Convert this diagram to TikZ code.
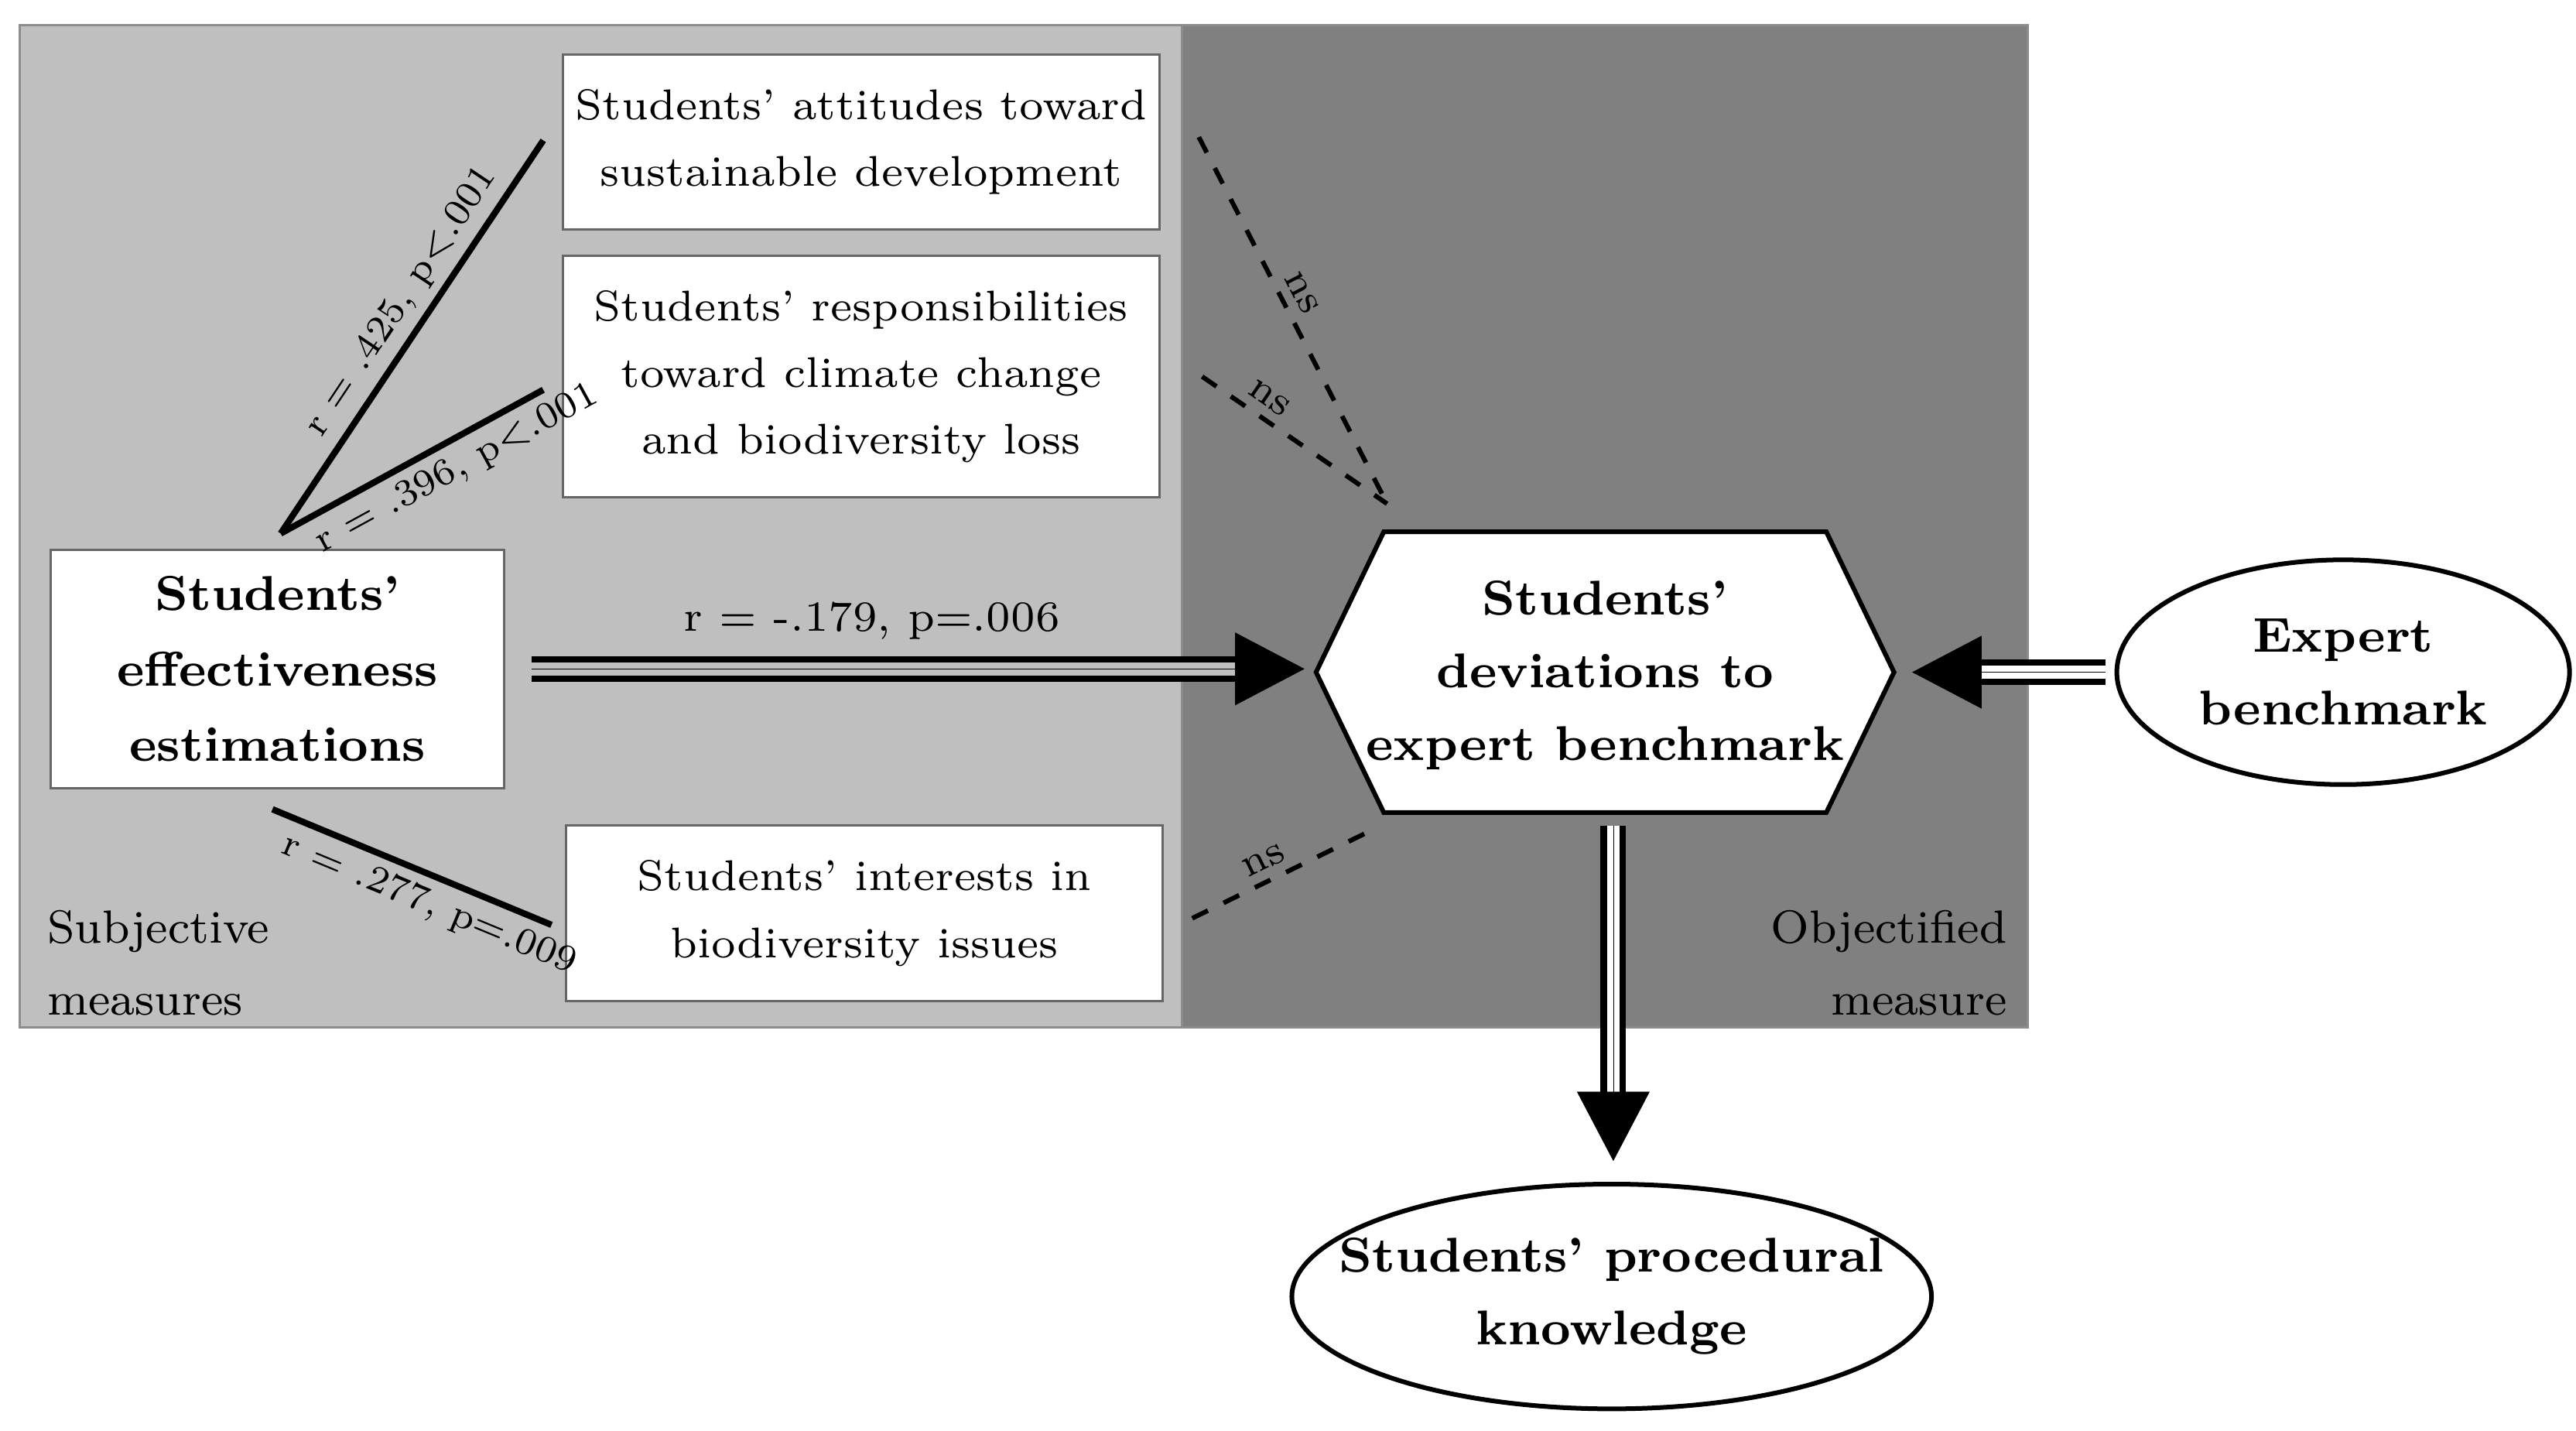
\documentclass[tikz,border=0pt]{standalone}
\usetikzlibrary{arrows.meta,shapes.geometric}
\begin{document}
\begin{tikzpicture}[
  x=0.01cm, y=-0.01cm,
  kasten/.style={
    shape=rectangle, draw=black!60, fill=white, align=center,
    inner sep=0pt, font=\fontsize{7.4}{11.5}\selectfont
  },
  oval/.style={
    shape=ellipse, draw, thick, fill=white, align=center, inner sep=-2pt,
    font=\fontsize{8.4}{12.5}\selectfont\bfseries
  },
  dopp/.style={
    double, double distance=2.2pt, line width=1.1pt, shorten >=0.42cm
  },
  spitze/.style={
    line width=0.1pt, -{Triangle[length=0.42cm,width=0.44cm]}
  },
  lab/.style={
    font=\fontsize{6.5}{8}\selectfont, inner sep=1.5pt
  }
]
\useasboundingbox (0,0) rectangle (1560,866);

% hintergrund
\draw[draw=black!45, fill=black!25] (12,15) rectangle (716,622);
\draw[draw=black!45, fill=black!50] (716,15) rectangle (1228,622);
\draw (28,583) node [anchor=west, align=left, inner sep=0pt, font=\fontsize{8}{12.5}\selectfont] (subj) {Subjective\\measures};
\draw (1216,583) node [anchor=east, align=right, inner sep=0pt, font=\fontsize{8}{12.5}\selectfont] (obj) {Objectified\\measure};

\draw (521.5,86) node [kasten, minimum width=3.61cm, minimum height=1.06cm] (att) {Students' attitudes toward\\sustainable development};
\draw (521.5,228) node [kasten, minimum width=3.61cm, minimum height=1.46cm] (resp) {Students' responsibilities\\toward climate change\\and biodiversity loss};
\draw (523.5,553) node [kasten, minimum width=3.61cm, minimum height=1.06cm] (int) {Students' interests in\\biodiversity issues};
\draw (168,405) node [kasten, minimum width=2.74cm, minimum height=1.44cm, font=\fontsize{8.4}{13}\selectfont\bfseries] (eff) {Students'\\effectiveness\\estimations};

\draw[thick, fill=white] (797,407) -- (838,322) -- (1106,322) -- (1147,407) -- (1106,492) -- (838,492) -- cycle;
\draw (972,409) node [align=center, font=\fontsize{8.4}{12.5}\selectfont\bfseries] (dev) {Students'\\deviations to\\expert benchmark};

\draw (1419,407) node [oval, minimum width=2.74cm, minimum height=1.36cm] (exp) {Expert\\benchmark};
\draw (976,785) node [oval, inner xsep=-8pt, minimum width=3.64cm, minimum height=1.36cm] (proc) {Students' procedural\\knowledge};

% punkte
\coordinate (e1) at (170,323);
\coordinate (a1) at (329,85);
\coordinate (r1) at (329,236);
\coordinate (e2) at (165,490);
\coordinate (i1) at (334,560);
\coordinate (e3) at (322,405);
\coordinate (d1) at (790,405);
\coordinate (x1) at (1275,407);
\coordinate (d2) at (1158,407);
\coordinate (d3) at (977,500);
\coordinate (p1) at (977,703);
\coordinate (n1) at (726,83);
\coordinate (n2) at (728,228);
\coordinate (dn) at (840,305);
\coordinate (n3) at (722,556);
\coordinate (d4) at (830,503);

\path [line width=1.1pt]
  (e1) edge node [lab, sloped, above, pos=0.55] {r = .425, p<.001} (a1)
  (e1) edge node [lab, sloped, below, pos=0.62] {r = .396, p<.001} (r1)
  (e2) edge node [lab, sloped, below, pos=0.6] {r = .277, p=.009} (i1);

\path [thick, dashed]
  (n1) edge node [lab, sloped, above, pos=0.45, font=\fontsize{7}{8}\selectfont] {ns} (dn)
  (n2) edge node [lab, sloped, above, pos=0.3, font=\fontsize{7}{8}\selectfont] {ns} (dn)
  (n3) edge node [lab, sloped, above, pos=0.45, font=\fontsize{7}{8}\selectfont] {ns} (d4);

\path
  (e3) edge [dopp, double=black!25] node [lab, above=3pt, pos=0.44, font=\fontsize{7.4}{9}\selectfont] {r = -.179, p=.006} (d1)
  (e3) edge [spitze] (d1)
  (x1) edge [dopp] (d2)
  (x1) edge [spitze] (d2)
  (d3) edge [dopp] (p1)
  (d3) edge [spitze] (p1);
\end{tikzpicture}
\end{document}
